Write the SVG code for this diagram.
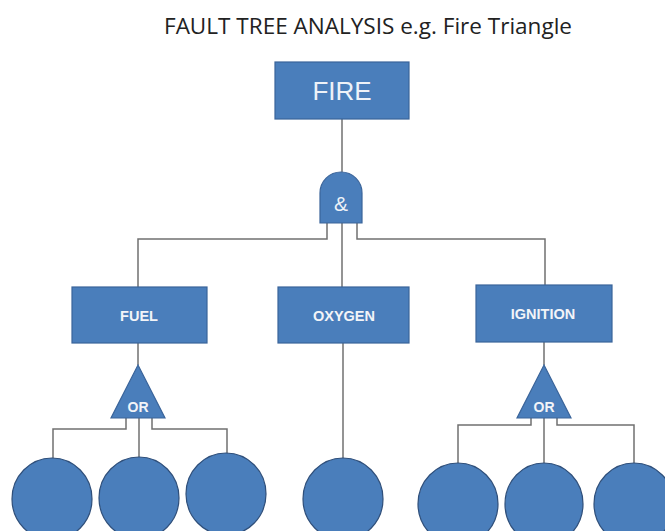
<svg xmlns="http://www.w3.org/2000/svg" width="665" height="531" viewBox="0 0 665 531">
<style>
.box{fill:#4a7ebb;stroke:#3a649a;stroke-width:1.2}
.gate{fill:#4a7ebb;stroke:#3a649a;stroke-width:1.2}
.ev{fill:#4a7ebb;stroke:#2f4f7a;stroke-width:1.2}
.ln{fill:none;stroke:#707070;stroke-width:1.5}
.lbl{font-family:"Liberation Sans",Arial,sans-serif;font-weight:bold;font-size:14.5px;fill:#f2f4f8;text-anchor:middle}
.gl{font-family:"Liberation Sans",Arial,sans-serif;font-weight:bold;font-size:14px;fill:#f2f4f8;text-anchor:middle}
</style>
<rect width="665" height="531" fill="#ffffff"/>
<text x="368" y="34" font-family="'Open Sans',sans-serif" font-size="21" fill="#222" text-anchor="middle" textLength="408" lengthAdjust="spacingAndGlyphs">FAULT TREE ANALYSIS e.g. Fire Triangle</text>
<g id="connectors">
<path class="ln" d="M342 119 V172"/>
<path class="ln" d="M327 223 V239 H138 V287"/>
<path class="ln" d="M357 223 V239 H545 V285"/>
<path class="ln" d="M342 223 V287"/>
<path class="ln" d="M138 343 V365"/>
<path class="ln" d="M126 418 V429 H53 V458"/>
<path class="ln" d="M139 418 V457"/>
<path class="ln" d="M152 418 V429 H227 V462"/>
<path class="ln" d="M343 343 V458"/>
<path class="ln" d="M544 342 V365"/>
<path class="ln" d="M531 418 V425 H458 V463"/>
<path class="ln" d="M544 418 V463"/>
<path class="ln" d="M557 418 V425 H634 V463"/>
</g>
<g id="fire"><rect class="box" x="275" y="62" width="134" height="57"/><text x="342" y="100" font-family="'Liberation Sans',Arial,sans-serif" font-size="26" fill="#eef2f8" text-anchor="middle">FIRE</text></g>
<g id="and-gate"><path class="gate" d="M320 223 V193 A21 21 0 0 1 362 193 V223 Z"/><text x="341" y="211" font-family="'Liberation Sans',Arial,sans-serif" font-size="21" fill="#eef2f8" text-anchor="middle">&amp;</text></g>
<g id="fuel"><rect class="box" x="72" y="287" width="135" height="56"/><text class="lbl" x="139" y="321">FUEL</text></g>
<g id="oxygen"><rect class="box" x="278" y="287" width="131" height="56"/><text class="lbl" x="344" y="321">OXYGEN</text></g>
<g id="ignition"><rect class="box" x="476" y="285" width="136" height="57"/><text class="lbl" x="543" y="319">IGNITION</text></g>
<g id="or-fuel"><path class="gate" d="M138 365 L165 418 H111 Z"/><text class="gl" x="138" y="412">OR</text></g>
<g id="or-ignition"><path class="gate" d="M544 365 L571 418 H517 Z"/><text class="gl" x="544" y="412">OR</text></g>
<g id="fuel-e1"><ellipse class="ev" cx="52" cy="499" rx="40" ry="41"/></g>
<g id="fuel-e2"><ellipse class="ev" cx="139" cy="498" rx="40" ry="41"/></g>
<g id="fuel-e3"><ellipse class="ev" cx="226" cy="494" rx="40" ry="41"/></g>
<g id="oxygen-e1"><ellipse class="ev" cx="343" cy="499" rx="40" ry="41"/></g>
<g id="ign-e1"><ellipse class="ev" cx="458" cy="504" rx="40" ry="41"/></g>
<g id="ign-e2"><ellipse class="ev" cx="544" cy="504" rx="39" ry="41"/></g>
<g id="ign-e3"><ellipse class="ev" cx="634" cy="504" rx="40" ry="41"/></g>
</svg>
